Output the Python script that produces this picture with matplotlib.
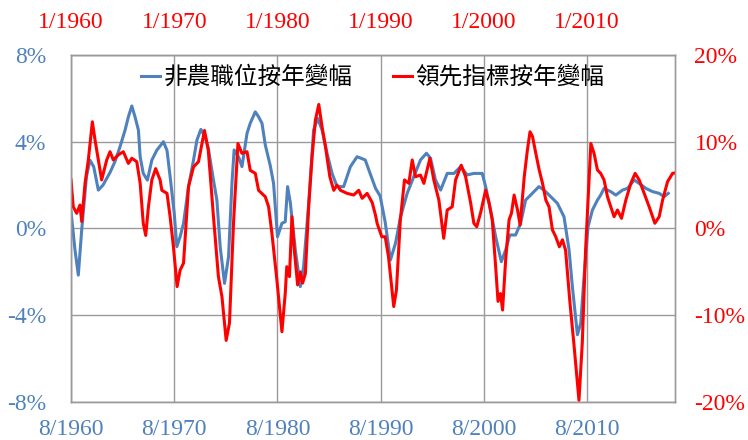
import numpy as np, matplotlib
matplotlib.use("Agg")
import matplotlib.pyplot as plt
from matplotlib.lines import Line2D

plt.rcParams.update({"font.family":["Liberation Serif","DejaVu Serif"],"font.size":17})

BLUE="#4F81BD"; RED="#FF0000"; GRID="#9A9A9A"

# payrolls YoY (%), left axis; t = years since 8/1960 on the shared decade axis
blue_t=[1960.0,1960.39,1960.71,1961.04,1961.5,1961.84,1962.2,1962.65,1963.1,1963.8,1964.27,1964.75,
 1965.24,1965.56,1965.89,1966.2,1966.53,1966.7,1967.0,1967.4,1967.83,1968.3,1968.95,1969.3,1969.6,
 1970.0,1970.25,1970.57,1970.9,1971.38,1971.87,1972.2,1972.58,1973.0,1973.3,1973.8,1974.13,1974.45,
 1974.87,1975.26,1975.59,1975.8,1976.23,1976.56,1977.05,1977.36,1977.85,1978.17,1978.5,1978.82,
 1979.3,1979.62,1980.0,1980.43,1980.75,1980.98,1981.24,1981.73,1982.21,1982.53,1983.02,1983.5,
 1983.89,1984.32,1984.8,1985.29,1985.77,1986.41,1987.06,1987.71,1988.5,1989.0,1989.5,1989.94,
 1990.43,1990.94,1991.43,1991.9,1992.56,1993.2,1993.85,1994.43,1994.82,1995.3,1995.8,1996.44,
 1997.1,1997.73,1998.38,1999.02,1999.83,2000.16,2000.64,2001.13,2001.68,2002.1,2002.5,2003.06,
 2003.55,2004.03,2004.68,2005.32,2005.81,2006.46,2007.11,2007.75,2008.24,2008.56,2009.05,2009.37,
 2009.69,2010.08,2010.5,2010.99,2011.3,2011.63,2012.28,2012.77,2013.41,2013.9,2014.55,2015.03,
 2015.68,2016.33,2016.97,2017.46,2017.85]
blue_v=[0.8,-1.0,-2.15,-0.05,2.4,3.15,2.85,1.77,2.0,2.6,3.1,3.77,
 4.54,5.15,5.65,5.15,4.54,3.3,2.54,2.23,3.15,3.6,4.0,3.6,2.4,
 0.7,-0.84,-0.38,0.24,1.93,3.16,4.08,4.57,4.23,3.7,2.23,1.31,-0.84,
 -2.53,-1.3,2.08,3.62,3.3,2.85,4.39,4.85,5.38,5.15,4.85,3.85,
 2.9,2.08,-0.38,0.24,0.31,1.93,1.2,-0.99,-2.68,-1.76,1.16,4.54,
 5.08,4.54,3.47,2.54,1.93,1.93,2.85,3.31,3.16,2.5,1.85,1.5,
 0.3,-1.45,-0.68,0.5,1.62,2.39,3.16,3.47,3.24,2.24,1.77,2.54,
 2.54,2.85,2.47,2.54,2.54,1.93,0.85,-0.38,-1.53,-0.99,-0.3,-0.3,
 0.24,1.31,1.62,1.93,1.77,1.47,1.16,0.54,-0.99,-2.68,-4.9,-4.37,
 -2.22,0.08,0.85,1.31,1.54,1.85,1.7,1.54,1.77,1.85,2.24,2.08,
 1.85,1.7,1.62,1.47,1.62]

# leading indicator YoY (%), right axis; t = years since 1/1960
red_t=[1960.0,1960.22,1960.55,1960.87,1961.04,1961.36,1961.68,1962.07,1962.33,1962.65,1962.97,1963.46,
 1963.78,1964.1,1964.59,1965.07,1965.56,1965.89,1966.37,1966.7,1967.0,1967.24,1967.5,1967.83,1968.2,
 1968.63,1968.8,1969.3,1969.6,1969.92,1970.28,1970.57,1970.9,1971.38,1971.87,1972.35,1972.93,1973.3,
 1973.8,1974.28,1974.62,1975.03,1975.35,1975.74,1976.17,1976.56,1977.05,1977.36,1977.85,1978.17,
 1978.82,1979.14,1979.46,1979.94,1980.43,1980.75,1980.9,1981.16,1981.4,1981.63,1981.95,1982.21,
 1982.43,1982.7,1983.02,1983.35,1983.67,1984.0,1984.32,1984.65,1985.07,1985.45,1985.77,1986.1,
 1986.74,1987.38,1987.87,1988.2,1988.68,1989.17,1989.5,1989.65,1990.1,1990.43,1990.75,1991.26,
 1991.52,1991.9,1992.3,1992.72,1993.05,1993.37,1993.85,1994.18,1994.76,1995.14,1995.63,1996.1,
 1996.44,1996.92,1997.25,1997.8,1998.22,1998.7,1999.02,1999.3,1999.67,2000.16,2000.48,2000.8,
 2001.13,2001.36,2001.6,2001.8,2002.1,2002.43,2002.66,2002.92,2003.25,2003.5,2003.9,2004.2,
 2004.46,2004.7,2005.02,2005.35,2005.67,2005.99,2006.3,2006.63,2006.95,2007.3,2007.6,2007.9,
 2008.33,2008.7,2009.2,2009.52,2009.84,2010.35,2010.66,2010.99,2011.3,2011.63,2011.96,2012.28,
 2012.6,2012.93,2013.32,2013.74,2014.22,2014.64,2015.03,2015.51,2016.0,2016.55,2016.97,2017.3,
 2017.78,2018.27,2018.5]
red_v=[5.6,2.5,1.75,2.7,0.8,5.2,7.9,12.3,10.2,7.9,5.6,7.9,
 8.85,7.9,8.5,8.85,7.5,8.1,7.7,5.2,0.6,-0.8,2.5,5.6,6.9,
 5.6,4.4,4.05,1.36,-2.1,-6.7,-4.8,-4.0,4.8,7.1,7.7,11.3,9.0,
 1.36,-5.55,-7.85,-12.9,-10.9,0.6,9.8,8.66,8.85,6.7,6.36,4.4,
 3.66,2.5,-0.55,-5.9,-11.9,-7.5,-4.4,-5.55,1.36,-2.5,-6.5,-5.0,
 -6.3,-5.2,2.5,8.27,12.5,14.3,11.7,9.4,5.97,4.4,5.0,4.4,
 4.05,3.86,4.4,3.48,4.05,3.0,1.5,0.6,-0.95,-0.95,-3.25,-9.0,
 -7.1,1.0,5.6,5.2,7.9,5.97,6.16,5.2,8.09,5.6,3.28,-1.13,
 2.13,2.5,5.6,7.3,5.97,3.0,0.6,0.2,1.8,4.4,3.0,1.0,
 -4.4,-8.4,-7.5,-9.4,-3.6,1.0,1.75,3.86,2.13,0.4,5.97,9.0,
 11.15,10.6,8.66,6.74,5.2,3.28,2.5,-0.17,-0.95,-2.1,-1.3,-2.5,
 -8.6,-13.2,-19.8,-13.2,-2.5,9.8,8.66,6.74,6.36,5.6,3.66,2.5,
 1.36,2.13,1.17,3.28,5.2,6.36,5.6,4.05,2.5,0.6,1.36,3.28,
 5.4,6.36,6.4]

decades=[1960,1970,1980,1990,2000,2010]
bottom_labels=["8/%d"%d for d in decades]
top_labels=["1/%d"%d for d in decades]
left_ticks=[-8,-4,0,4,8]
right_ticks=[-20,-10,0,10,20]

fig=plt.figure(figsize=(7.48,4.4),dpi=100)
ax=fig.add_axes([0.0949,0.0864,0.8075,0.7886])
ax2=ax.twinx()

ax.plot(blue_t,blue_v,color=BLUE,lw=2.2,solid_joinstyle="round")
ax2.plot(red_t,red_v,color=RED,lw=2.2,solid_joinstyle="round")

ax.set_xlim(1960,2018.5)
ax.set_ylim(-8,8); ax2.set_ylim(-20,20)
ax.set_xticks(decades); ax.set_xticklabels(bottom_labels,color=BLUE)
ax.set_yticks(left_ticks); ax.set_yticklabels([f"{v}%" for v in left_ticks],color=BLUE)
ax2.set_yticks(right_ticks); ax2.set_yticklabels([f"{v}%" for v in right_ticks],color=RED)
ax.grid(True,color=GRID,lw=1)
ax.tick_params(axis="x",length=0,pad=12)
ax.tick_params(axis="y",length=0,pad=18)
ax2.tick_params(axis="y",length=0,pad=14)
for a in (ax,ax2):
    for s in a.spines.values(): s.set_color(GRID); s.set_linewidth(1)

top=ax.secondary_xaxis("top")
top.set_xticks(decades); top.set_xticklabels(top_labels,color=RED)
top.tick_params(length=0,pad=16)
top.spines["top"].set_color(GRID)

handles=[Line2D([],[],color=BLUE,lw=2.2),Line2D([],[],color=RED,lw=2.2)]
ax.legend(handles,["非農職位按年變幅","領先指標按年變幅"],loc="upper center",
    bbox_to_anchor=(0.5,1.03),ncol=2,frameon=False,handlelength=0.8,handletextpad=0.15,
    columnspacing=1.7,prop={"family":["Noto Sans CJK TC","DejaVu Sans"],"size":17})

fig.savefig("out.png",dpi=100,facecolor="white")
